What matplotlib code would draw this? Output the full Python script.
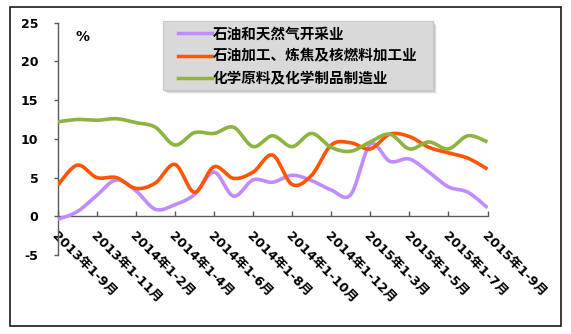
import numpy as np
import matplotlib
matplotlib.use("Agg")
import matplotlib.pyplot as plt
from matplotlib.patches import Rectangle
from matplotlib.lines import Line2D

plt.rcParams['font.family'] = ['Noto Sans CJK SC', 'DejaVu Sans']

# Cumulative periods (monthly, labelled every other period)
periods = ["2013年1-9月", "2013年1-10月", "2013年1-11月", "2013年1-12月",
           "2014年1-2月", "2014年1-3月", "2014年1-4月", "2014年1-5月",
           "2014年1-6月", "2014年1-7月", "2014年1-8月", "2014年1-9月",
           "2014年1-10月", "2014年1-11月", "2014年1-12月", "2015年1-2月",
           "2015年1-3月", "2015年1-4月", "2015年1-5月", "2015年1-6月",
           "2015年1-7月", "2015年1-8月", "2015年1-9月"]

series_names = ["石油和天然气开采业", "石油加工、炼焦及核燃料加工业", "化学原料及化学制品制造业"]
oil_gas = [-0.4, 0.6, 2.7, 4.7, 3.3, 0.9, 1.5, 2.8, 5.7, 2.6, 4.7, 4.4, 5.3,
           4.6, 3.4, 2.8, 9.3, 7.1, 7.4, 5.7, 3.8, 3.1, 1.1]
refining = [4.0, 6.6, 5.0, 5.0, 3.6, 4.3, 6.7, 3.1, 6.4, 4.9, 5.7, 7.9, 4.1,
            5.3, 9.2, 9.5, 8.7, 10.6, 10.3, 8.9, 8.2, 7.5, 6.1]
chemicals = [12.2, 12.5, 12.4, 12.6, 12.1, 11.5, 9.2, 10.8, 10.7, 11.5, 9.0, 10.4, 9.0,
             10.7, 8.9, 8.4, 9.6, 10.6, 8.7, 9.6, 8.7, 10.4, 9.6]
colors = ["#c08cff", "#ff5500", "#8db340"]

y_ticks = [-5, 0, 5, 10, 15, 20, 25]


def smooth(y, n=30):
    """Catmull-Rom style smoothing through every point."""
    y = np.asarray(y, dtype=float)
    x = np.arange(len(y), dtype=float)
    xs, ys = [], []
    for i in range(len(y) - 1):
        p0 = (x[max(i - 1, 0)], y[max(i - 1, 0)])
        p1 = (x[i], y[i])
        p2 = (x[i + 1], y[i + 1])
        p3 = (x[min(i + 2, len(y) - 1)], y[min(i + 2, len(y) - 1)])
        c1 = (p1[0] + (p2[0] - p0[0]) / 6, p1[1] + (p2[1] - p0[1]) / 6)
        c2 = (p2[0] - (p3[0] - p1[0]) / 6, p2[1] - (p3[1] - p1[1]) / 6)
        t = np.linspace(0, 1, n, endpoint=(i == len(y) - 2))
        b0 = (1 - t) ** 3
        b1 = 3 * (1 - t) ** 2 * t
        b2 = 3 * (1 - t) * t ** 2
        b3 = t ** 3
        xs.append(b0 * p1[0] + b1 * c1[0] + b2 * c2[0] + b3 * p2[0])
        ys.append(b0 * p1[1] + b1 * c1[1] + b2 * c2[1] + b3 * p2[1])
    return np.concatenate(xs), np.concatenate(ys)


W, H = 571, 334
fig = plt.figure(figsize=(W / 100, H / 100), dpi=100)
ax = fig.add_axes([57.7 / W, 1 - 255 / H, (487.5 - 57.7) / W, (255 - 22.7) / H])

for vals, col in zip([oil_gas, refining, chemicals], colors):
    sx, sy = smooth(vals)
    ax.plot(sx, sy, color=col, lw=2.6, solid_capstyle='butt', zorder=3)

ax.set_xlim(0, len(periods) - 1)
ax.set_ylim(-5, 25)

# Axis styling first: moving a spine rebuilds the tick objects
ax.spines['top'].set_visible(False)
ax.spines['right'].set_visible(False)
ax.spines['bottom'].set_position(('data', 0))
for s in ('left', 'bottom'):
    ax.spines[s].set_color('#595959')
    ax.spines[s].set_linewidth(1.0)
ax.tick_params(axis='y', direction='out', length=3, width=1, color='#595959', pad=11)
ax.tick_params(axis='x', direction='in', length=3.6, width=1, color='#595959', pad=10)
ax.patch.set_alpha(0)

ax.set_yticks(y_ticks)
ax.set_yticklabels([str(v) for v in y_ticks], fontsize=9, fontweight='bold',
                   family='DejaVu Sans')

xt = list(range(0, len(periods), 2))
ax.set_xticks(xt)
ax.set_xticklabels([periods[i] for i in xt], rotation=-45, ha='left', va='top',
                   rotation_mode='anchor', fontsize=9.3, fontweight='bold',
                   family=['DejaVu Sans', 'Noto Sans CJK SC'])

ax.text(0.9, 23.2, "%", fontsize=10, fontweight='bold', family='DejaVu Sans',
        ha='left', va='center')


# Legend panel with a soft drop shadow
def fx(px):
    return px / W


def fy(py):
    return 1 - py / H


lx0, lx1, ly0, ly1 = 163, 433, 21, 90
for k, a in [(4, 0.06), (3, 0.10), (2, 0.16)]:
    fig.patches.append(Rectangle((fx(lx0 + k), fy(ly1 + k)), fx(lx1 - lx0), (ly1 - ly0) / H,
                                 transform=fig.transFigure, facecolor='#404040',
                                 edgecolor='none', alpha=a, zorder=4))
fig.patches.append(Rectangle((fx(lx0), fy(ly1)), fx(lx1 - lx0), (ly1 - ly0) / H,
                             transform=fig.transFigure, facecolor='#d9d9d9',
                             edgecolor='#c8c8c8', lw=0.8, zorder=5))
for name, col, py in zip(series_names, colors, [33.3, 55.5, 78.5]):
    fig.lines.append(Line2D([fx(178), fx(212)], [fy(py), fy(py)], transform=fig.transFigure,
                            color=col, lw=2.5, zorder=6))
    fig.text(fx(213), fy(py), name, fontsize=10.5, fontweight='bold',
             ha='left', va='center', zorder=6)

# Outer frame
fig.patches.append(Rectangle((fx(10), fy(326)), fx(551), (326 - 7) / H,
                             transform=fig.transFigure, facecolor='none',
                             edgecolor='#1a1a1a', lw=1.2, zorder=7))

fig.savefig("out.png", dpi=100)
